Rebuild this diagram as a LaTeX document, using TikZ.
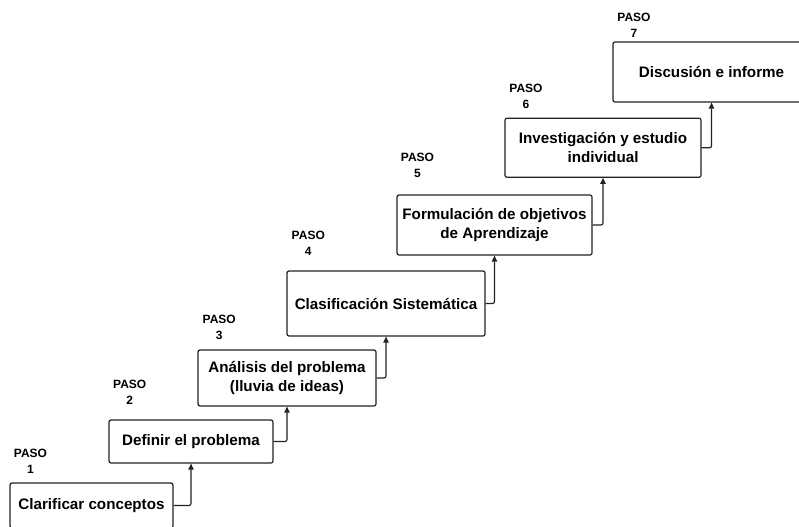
\documentclass[tikz,border=0pt]{standalone}
\usepackage{fontspec}
\setmainfont{Liberation Sans}
\usetikzlibrary{arrows.meta}
\definecolor{ink}{HTML}{222222}
\tikzset{
  x=0.75pt,y=-0.75pt,
  stepbox/.style={draw=ink,line width=0.9pt,rounded corners=1.5pt,fill=white,
    align=center,inner sep=0pt,font=\fontsize{11.4}{14.2}\selectfont\bfseries,text=black},
  pasolabel/.style={align=center,inner sep=0pt,font=\fontsize{9}{12}\selectfont\bfseries,text=black},
  link/.style={draw=ink,line width=0.9pt,rounded corners=1.5pt,-{Triangle[length=4.5pt,width=4pt]}}
}
\begin{document}
\begin{tikzpicture}
\clip (0,0) rectangle (799,527);
\useasboundingbox (0,0) rectangle (799,527);
\fill[white] (0,0) rectangle (799,527);
\node[stepbox,minimum width=163*0.75pt,minimum height=45*0.75pt] (b1) at (91.5,505.5) {Clarificar conceptos};
\node[stepbox,minimum width=164*0.75pt,minimum height=43*0.75pt] (b2) at (191,441.5) {Definir el problema};
\node[stepbox,minimum width=178*0.75pt,minimum height=56*0.75pt] (b3) at (287,378) {Análisis del problema\\(lluvia de ideas)};
\node[stepbox,minimum width=198*0.75pt,minimum height=65*0.75pt] (b4) at (386,303.5) {Clasificación Sistemática};
\node[stepbox,minimum width=195*0.75pt,minimum height=60*0.75pt] (b5) at (494.5,225) {Formulación de objetivos\\de Aprendizaje};
\node[stepbox,minimum width=196*0.75pt,minimum height=59*0.75pt] (b6) at (603,147.75) {Investigación y estudio\\individual};
\node[stepbox,minimum width=197*0.75pt,minimum height=60*0.75pt] (b7) at (711.5,72) {Discusión e informe};
\node[pasolabel] (p1) at (30.5,461) {PASO\\1};
\node[pasolabel] (p2) at (129.7,392.5) {PASO\\2};
\node[pasolabel] (p3) at (219.2,327) {PASO\\3};
\node[pasolabel] (p4) at (308.3,243) {PASO\\4};
\node[pasolabel] (p5) at (417.5,165) {PASO\\5};
\node[pasolabel] (p6) at (526,96) {PASO\\6};
\node[pasolabel] (p7) at (634,25) {PASO\\7};
\draw[link] (b1.east) -| (b2.south);
\draw[link] (b2.east) -| (b3.south);
\draw[link] (b3.east) -| (b4.south);
\draw[link] (b4.east) -| (b5.south);
\draw[link] (b5.east) -| (b6.south);
\draw[link] (b6.east) -| (b7.south);
\end{tikzpicture}
\end{document}
